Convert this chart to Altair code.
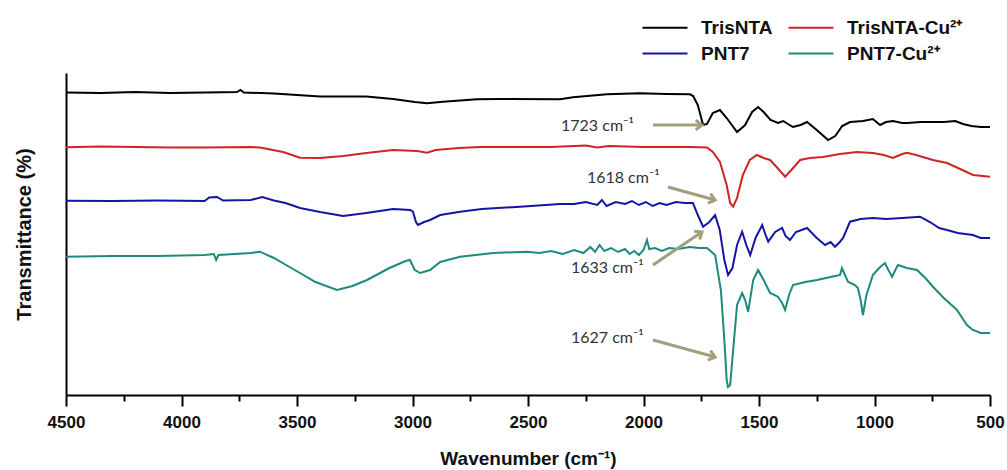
import math
import altair as alt
import pandas as pd

# ---------------- data ----------------
series_names = ["TrisNTA", "TrisNTA-Cu²⁺", "PNT7", "PNT7-Cu²⁺"]
series_colors = ["#000000", "#d02424", "#1414a6", "#1d8a7e"]

# (wavenumber cm-1, transmittance offset a.u.)
trisnta = [
    (4500, 302.5), (4350, 302), (4200, 303), (4050, 302), (3900, 302.5), (3760, 303),
    (3745, 305), (3730, 302.5), (3600, 301.5), (3400, 298.5), (3200, 298.5), (3084, 296),
    (2990, 293), (2937, 291.7), (2868, 293.3), (2720, 295.7), (2621, 296), (2361, 295.7),
    (2305, 297.7), (2158, 300.7), (2015, 301.7), (1900, 301), (1799, 300.7), (1785, 299),
    (1765, 290), (1742, 270), (1725, 271), (1700, 282), (1669, 285), (1640, 277),
    (1595, 263), (1560, 270), (1530, 283), (1504, 288), (1480, 283), (1450, 275),
    (1418, 272), (1395, 274), (1375, 271), (1353, 268), (1320, 270), (1292, 273),
    (1250, 265), (1201, 255), (1170, 259), (1140, 269), (1106, 273), (1050, 274),
    (1007, 276), (976, 270), (950, 273), (920, 274), (880, 272), (859, 272), (800, 273),
    (700, 273), (650, 274), (617, 271), (580, 269), (540, 268), (500, 268),
]

trisnta_cu = [
    (4500, 247.7), (4350, 248.5), (4200, 248), (4050, 247.5), (3900, 247.5), (3700, 248),
    (3660, 247.5), (3560, 243), (3487, 237.3), (3400, 237), (3300, 239), (3200, 242),
    (3084, 245), (2980, 244), (2937, 242.3), (2900, 245), (2800, 247), (2708, 248),
    (2400, 248), (2250, 249.5), (2200, 247.5), (2150, 249), (2000, 248), (1800, 248),
    (1725, 247.5), (1700, 243), (1669, 233), (1640, 210), (1625, 192), (1612, 188.3),
    (1595, 197), (1570, 220), (1540, 235), (1509, 240), (1480, 237), (1452, 235),
    (1420, 227), (1387, 218.3), (1360, 225), (1322, 235), (1280, 237), (1223, 238),
    (1150, 241), (1076, 243), (1007, 242), (960, 240), (920, 237), (880, 241),
    (859, 242.3), (820, 240), (747, 235), (686, 232), (620, 225), (574, 220), (500, 218.3),
]

pnt7 = [
    (4500, 194.3), (4300, 194), (4100, 194.5), (3900, 194), (3880, 197.5), (3846, 198),
    (3820, 194.5), (3700, 195), (3650, 198), (3600, 194.5), (3550, 192), (3487, 187),
    (3400, 183), (3300, 179), (3200, 182), (3084, 186), (3010, 185), (2998, 183.3),
    (2985, 173), (2976, 170), (2950, 173), (2924, 175), (2880, 180), (2794, 183.3),
    (2700, 186), (2535, 188.3), (2361, 191), (2300, 191), (2250, 193), (2200, 190),
    (2180, 195), (2160, 189), (2120, 193), (2080, 191), (2050, 194), (2020, 190),
    (1990, 193), (1960, 189), (1930, 192), (1900, 190), (1860, 193), (1820, 192),
    (1786, 192), (1765, 180), (1742, 168.3), (1715, 173), (1690, 180), (1670, 165),
    (1650, 135), (1634, 120), (1615, 127), (1595, 150), (1573, 163.3), (1555, 150),
    (1538, 140), (1515, 157), (1486, 170), (1470, 159), (1460, 153.3), (1430, 163),
    (1400, 167), (1385, 159), (1366, 155), (1340, 163), (1292, 167), (1250, 157),
    (1214, 150), (1190, 153), (1171, 148.3), (1150, 153), (1136, 157), (1106, 173.3),
    (1060, 176), (1007, 177), (950, 176), (880, 177), (803, 178.3), (760, 173),
    (720, 167), (686, 165), (640, 162), (574, 160), (540, 157), (500, 157),
]

pnt7_cu = [
    (4500, 138.3), (4300, 139), (4100, 139), (3900, 140), (3860, 141), (3850, 135),
    (3840, 140), (3700, 142), (3660, 143.3), (3600, 137), (3540, 129), (3487, 122),
    (3420, 113), (3327, 105), (3260, 109), (3197, 115), (3100, 127), (3030, 134),
    (3011, 135), (2990, 125), (2967, 122), (2924, 125), (2880, 133), (2794, 138.3),
    (2650, 142), (2504, 143.3), (2450, 142), (2400, 144), (2350, 141), (2300, 145),
    (2260, 142), (2230, 148), (2210, 143), (2190, 150), (2170, 144), (2140, 147),
    (2110, 143), (2080, 146), (2060, 141), (2040, 144), (2020, 140), (2000, 145),
    (1985, 155), (1975, 146), (1950, 147), (1920, 144), (1890, 147), (1850, 146),
    (1800, 148), (1760, 147), (1725, 147), (1690, 140), (1665, 105), (1650, 55),
    (1640, 15), (1634, 8), (1625, 10), (1610, 50), (1595, 90), (1573, 102), (1560, 95),
    (1547, 83.3), (1525, 115), (1504, 125), (1480, 115), (1452, 102), (1418, 98.3),
    (1400, 92), (1387, 85), (1370, 100), (1353, 110), (1300, 113), (1249, 115),
    (1190, 118), (1149, 120), (1141, 127), (1115, 113.3), (1085, 110), (1072, 107),
    (1060, 95), (1050, 80), (1035, 100), (1007, 120), (980, 127), (955, 132), (940, 125),
    (924, 118.3), (910, 125), (898, 130), (860, 127), (816, 125), (780, 117),
    (747, 108.3), (700, 97), (643, 85), (600, 70), (574, 65), (540, 62), (500, 62),
]

# annotations: label, text anchor (wn, T), arrow start (wn, T), arrow tip (wn, T)
ann_labels = ["1723 cm⁻¹", "1618 cm⁻¹", "1633 cm⁻¹", "1627 cm⁻¹"]
ann_text_wn = [2357, 2245, 2314, 2314]
ann_text_t = [269, 217, 127, 57]
ann_from_wn = [1959, 1894, 1959, 1959]
ann_from_t = [270, 208, 130, 55]
ann_to_wn = [1747, 1690, 1747, 1690]
ann_to_t = [270, 195, 163, 38]

x_ticks = list(range(500, 4501, 250))

# ---------------- build tables ----------------
rows = []
for name, pts in zip(series_names, [trisnta, trisnta_cu, pnt7, pnt7_cu]):
    for i, (wn, t) in enumerate(pts):
        rows.append({"wn": wn, "T": t, "series": name, "idx": i})
spec_df = pd.DataFrame(rows)

W, H = 924, 322
X_MIN, X_MAX = 500, 4500
Y_MIN, Y_MAX = 0, 322


def head_angle(w0, t0, w1, t1):
    dx = (w0 - w1) * W / (X_MAX - X_MIN)
    dy = -(t1 - t0) * H / (Y_MAX - Y_MIN)
    return math.degrees(math.atan2(dy, dx)) % 360


ann_df = pd.DataFrame({
    "label": ann_labels,
    "tw": ann_text_wn, "tt": ann_text_t,
    "fw": ann_from_wn, "ft": ann_from_t,
    "ew": ann_to_wn, "et": ann_to_t,
    "ang": [head_angle(a, b, c, d) for a, b, c, d in
            zip(ann_from_wn, ann_from_t, ann_to_wn, ann_to_t)],
})

xscale = alt.Scale(domain=[X_MIN, X_MAX], reverse=True, nice=False, zero=False)
yscale = alt.Scale(domain=[Y_MIN, Y_MAX], nice=False, zero=False)

x_axis = alt.Axis(
    values=x_ticks,
    labelExpr="datum.value % 500 === 0 ? datum.label : ''",
    format="d",
    labelOverlap=False,
    labelFlush=False,
    labelFont="Liberation Sans",
    labelFontSize=17,
    labelFontWeight="bold",
    labelColor="#111111",
    labelPadding=8,
    tickColor="black",
    tickWidth=2,
    tickSize={"condition": {"test": "datum.value % 500 === 0", "value": 11}, "value": 6},
    domainColor="black",
    domainWidth=2,
    grid=False,
    title="Wavenumber (cm⁻¹)",
    titleFont="Liberation Sans",
    titleFontSize=19,
    titleFontWeight="bold",
    titleColor="#111111",
    titlePadding=19,
)

y_axis = alt.Axis(
    labels=False,
    ticks=False,
    grid=False,
    domainColor="black",
    domainWidth=2,
    title="Transmittance (%)",
    titleFont="Liberation Sans",
    titleFontSize=20,
    titleFontWeight="bold",
    titleColor="#111111",
    titlePadding=32,
)

lines = alt.Chart(spec_df).mark_line(strokeWidth=2).encode(
    x=alt.X("wn:Q", scale=xscale, axis=x_axis),
    y=alt.Y("T:Q", scale=yscale, axis=y_axis),
    color=alt.Color(
        "series:N",
        scale=alt.Scale(domain=series_names, range=series_colors),
        legend=alt.Legend(
            orient="none",
            legendX=607,
            legendY=-55,
            columns=2,
            direction="horizontal",
            title=None,
            symbolType="M -8 0 L 1 0",
            symbolSize=100,
            symbolStrokeWidth=2,
            labelFont="Liberation Sans",
            labelFontSize=19,
            labelFontWeight="bold",
            labelColor="#111111",
            labelOffset=9,
            columnPadding=11,
            rowPadding=6,
            padding=0,
            labelLimit=300,
        ),
    ),
    order="idx:Q",
)

arrow_color = "#a39e7c"

arrow_lines = alt.Chart(ann_df).mark_rule(color=arrow_color, strokeWidth=3).encode(
    x=alt.X("fw:Q", scale=xscale),
    y=alt.Y("ft:Q", scale=yscale),
    x2="ew:Q",
    y2="et:Q",
)

arrow_heads = alt.Chart(ann_df).mark_point(
    shape="M -1 -0.8 L 0 0 L -1 0.8",
    filled=False,
    color=arrow_color,
    strokeWidth=3,
    size=150,
    opacity=1,
).encode(
    x=alt.X("ew:Q", scale=xscale),
    y=alt.Y("et:Q", scale=yscale),
    angle=alt.Angle("ang:Q", scale=None),
)

ann_text = alt.Chart(ann_df).mark_text(
    align="left",
    baseline="middle",
    font="Lato",
    fontSize=16,
    color="#333333",
).encode(
    x=alt.X("tw:Q", scale=xscale),
    y=alt.Y("tt:Q", scale=yscale),
    text="label:N",
)

chart = alt.layer(lines, arrow_lines, arrow_heads, ann_text).properties(
    width=W,
    height=H,
    autosize=alt.AutoSizeParams(type="none"),
    padding={"left": 66, "top": 73, "right": 17, "bottom": 75},
    background="white",
).configure_view(stroke=None)

chart.save("out.html", embed_options={"renderer": "svg", "actions": False})
